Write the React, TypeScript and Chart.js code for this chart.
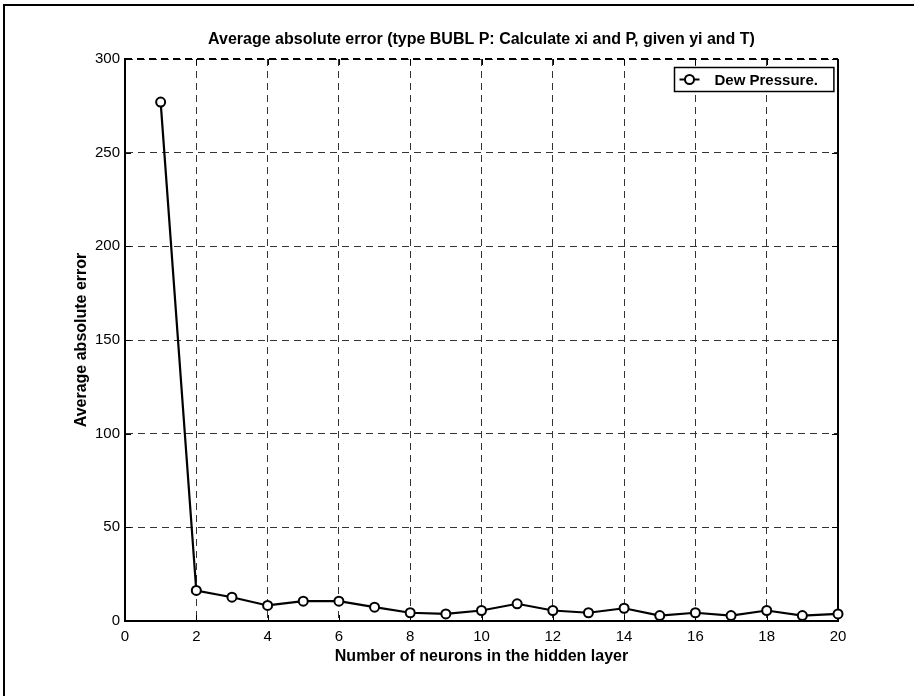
import React, { useEffect, useRef } from "react";
import { Chart, registerables } from "chart.js";

Chart.register(...registerables);

const neurons: number[] = [1, 2, 3, 4, 5, 6, 7, 8, 9, 10, 11, 12, 13, 14, 15, 16, 17, 18, 19, 20];
const dewPressureError: number[] = [277, 16.3, 12.7, 8.3, 10.6, 10.6, 7.4, 4.4, 3.8, 5.6, 9.2, 5.6, 4.4, 6.8, 2.9, 4.4, 2.9, 5.6, 2.9, 3.8];
const seriesLabel = "Dew Pressure.";
const chartTitle = "Average absolute error (type BUBL P: Calculate xi and P, given yi and T)";
const xTitle = "Number of neurons in the hidden layer";
const yTitle = "Average absolute error";
const xTicks: number[] = [0, 2, 4, 6, 8, 10, 12, 14, 16, 18, 20];
const yTicks: number[] = [0, 50, 100, 150, 200, 250, 300];

const FONT = "'Liberation Sans', Arial, Helvetica, sans-serif";

const framePlugin = {
  id: "frame",
  beforeDraw(chart: any) {
    const ctx = chart.ctx;
    ctx.save();
    ctx.fillStyle = "#ffffff";
    ctx.fillRect(0, 0, chart.width, chart.height);
    ctx.fillStyle = "#000000";
    ctx.fillRect(3, 4, chart.width - 3, 2);
    ctx.fillRect(3, 4, 2, chart.height - 4);
    ctx.restore();
  },
  beforeDatasetsDraw(chart: any) {
    const { ctx, chartArea } = chart;
    const { left, right, top, bottom } = chartArea;
    const xs = chart.scales.x;
    const ys = chart.scales.y;
    ctx.save();
    ctx.strokeStyle = "#000";
    ctx.lineWidth = 2;
    ctx.beginPath();
    ctx.moveTo(right, top);
    ctx.lineTo(right, bottom + 1);
    ctx.stroke();
    ctx.setLineDash([7, 5]);
    ctx.beginPath();
    ctx.moveTo(left, top);
    ctx.lineTo(right, top);
    ctx.stroke();
    ctx.setLineDash([]);
    ctx.lineWidth = 1;
    const tl = 6;
    xTicks.forEach((v) => {
      const px = Math.round(xs.getPixelForValue(v)) + 0.5;
      ctx.beginPath();
      ctx.moveTo(px, bottom);
      ctx.lineTo(px, bottom - tl);
      ctx.moveTo(px, top);
      ctx.lineTo(px, top + tl);
      ctx.stroke();
    });
    yTicks.forEach((v) => {
      const py = Math.round(ys.getPixelForValue(v)) + 0.5;
      ctx.beginPath();
      ctx.moveTo(left, py);
      ctx.lineTo(left + tl, py);
      ctx.moveTo(right, py);
      ctx.lineTo(right - tl, py);
      ctx.stroke();
    });
    ctx.restore();
  },
  afterDatasetsDraw(chart: any) {
    const { ctx, chartArea } = chart;
    const ds = chart.data.datasets[0];
    ctx.save();
    ctx.font = `bold 15px ${FONT}`;
    const tw = ctx.measureText(ds.label).width;
    const w = 40 + tw + 16;
    const h = 24;
    const bx = Math.round(chartArea.right - 5 - w) + 0.5;
    const by = Math.round(chartArea.top + 8) + 0.5;
    ctx.fillStyle = "#fff";
    ctx.fillRect(bx, by, w, h);
    ctx.strokeStyle = "#000";
    ctx.lineWidth = 1.5;
    ctx.strokeRect(bx, by, w, h);
    const cy = by + h / 2;
    ctx.lineWidth = 2;
    ctx.beginPath();
    ctx.moveTo(bx + 5, cy);
    ctx.lineTo(bx + 25, cy);
    ctx.stroke();
    ctx.beginPath();
    ctx.arc(bx + 15, cy, 4.5, 0, Math.PI * 2);
    ctx.fillStyle = "#fff";
    ctx.fill();
    ctx.stroke();
    ctx.fillStyle = "#000";
    ctx.textBaseline = "middle";
    ctx.textAlign = "left";
    ctx.fillText(ds.label, bx + 40, cy + 1);
    ctx.restore();
  },
};

export default function App() {
  const ref = useRef<HTMLCanvasElement | null>(null);
  useEffect(() => {
    if (!ref.current) return;
    const chart = new Chart(ref.current, {
      type: "line",
      data: {
        datasets: [
          {
            label: seriesLabel,
            data: neurons.map((n, i) => ({ x: n, y: dewPressureError[i] })),
            borderColor: "#000",
            borderWidth: 2.2,
            pointRadius: 4.5,
            pointBorderWidth: 2,
            pointBackgroundColor: "#fff",
            pointBorderColor: "#000",
            tension: 0,
            clip: false as any,
          },
        ],
      },
      options: {
        responsive: false,
        animation: false,
        layout: { padding: { left: 0, right: 76, top: 0, bottom: 0 } },
        plugins: {
          legend: { display: false },
          tooltip: { enabled: false },
          title: {
            display: true,
            text: chartTitle,
            fullSize: false,
            color: "#000",
            font: { family: FONT, size: 16, weight: "bold" },
            padding: { top: 30.4, bottom: 9.4 },
          },
        },
        scales: {
          x: {
            type: "linear",
            min: 0,
            max: 20,
            afterBuildTicks: (s: any) => {
              s.ticks = xTicks.map((v) => ({ value: v }));
            },
            afterFit: (s: any) => {
              s.height = 75;
            },
            ticks: {
              color: "#000",
              font: { family: FONT, size: 15 },
              padding: 7,
              maxRotation: 0,
            },
            grid: { color: "#333", lineWidth: 1, drawTicks: false },
            border: { display: true, color: "#000", width: 2, dash: [7, 5] },
            title: {
              display: true,
              text: xTitle,
              color: "#000",
              font: { family: FONT, size: 16, weight: "bold" },
              padding: { top: 0, bottom: 29.7 },
            },
          },
          y: {
            type: "linear",
            min: 0,
            max: 300,
            afterBuildTicks: (s: any) => {
              s.ticks = yTicks.map((v) => ({ value: v }));
            },
            afterFit: (s: any) => {
              s.width = 125;
            },
            ticks: {
              color: "#000",
              font: { family: FONT, size: 15 },
              padding: 5,
            },
            grid: { color: "#333", lineWidth: 1, drawTicks: false },
            border: { display: true, color: "#000", width: 2, dash: [7, 5] },
            title: {
              display: true,
              text: yTitle,
              color: "#000",
              font: { family: FONT, size: 16, weight: "bold" },
              padding: { top: 72.4, bottom: 0 },
            },
          },
        },
      },
      plugins: [framePlugin],
    });
    return () => chart.destroy();
  }, []);
  return (
    <div style={{ position: "absolute", left: 0, top: 0, width: 914, height: 696 }}>
      <canvas ref={ref} width={914} height={696} />
    </div>
  );
}
